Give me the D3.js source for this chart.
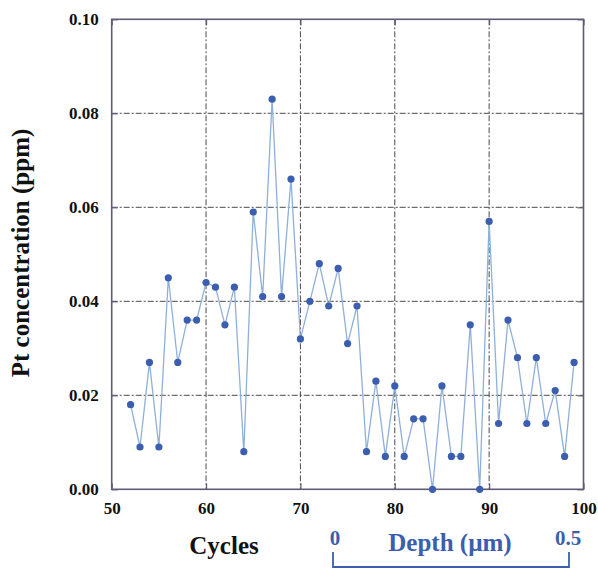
<!DOCTYPE html>
<html>
<head>
<meta charset="utf-8">
<script src="https://cdn.jsdelivr.net/npm/d3@7"></script>
<style>
  html, body { margin: 0; padding: 0; background: #fff; }
  svg { display: block; }
</style>
</head>
<body>
<svg id="chart" width="598" height="569"></svg>
<script>
// Pt concentration per cycle
const cycles = [52,53,54,55,56,57,58,59,60,61,62,63,64,65,66,67,68,69,70,71,72,73,74,75,
                76,77,78,79,80,81,82,83,84,85,86,87,88,89,90,91,92,93,94,95,96,97,98,99];
const ptPpm = [0.018,0.009,0.027,0.009,0.045,0.027,0.036,0.036,0.044,0.043,0.035,0.043,
               0.008,0.059,0.041,0.083,0.041,0.066,0.032,0.040,0.048,0.039,0.047,0.031,
               0.039,0.008,0.023,0.007,0.022,0.007,0.015,0.015,0.000,0.022,0.007,0.007,
               0.035,0.000,0.057,0.014,0.036,0.028,0.014,0.028,0.014,0.021,0.007,0.027];
const xTicks = [50,60,70,80,90,100];
const yTicks = [0,0.02,0.04,0.06,0.08,0.10];
const depthTicks = [0, 0.5];

const serif = "'Liberation Serif', 'Times New Roman', serif";
const svg = d3.select("#chart");
const plotL = 111.7, plotR = 583.5, plotT = 19.3, plotB = 489.3;

const x = d3.scaleLinear().domain([50,100]).range([plotL,plotR]);
const y = d3.scaleLinear().domain([0,0.10]).range([plotB,plotT]);
const depth = d3.scaleLinear().domain([0,0.5]).range([333,569]);

const blue = "#3b5fae";
const frame = "#5f5a75";

// grid lines
const grid = svg.append("g");
grid.selectAll("line.v").data(xTicks.slice(1,-1)).join("line")
  .attr("x1", d => x(d)).attr("x2", d => x(d))
  .attr("y1", plotT).attr("y2", plotB)
  .attr("stroke", "#4a4a4a").attr("stroke-width", 1)
  .attr("stroke-dasharray", "6,2,2,2");
grid.selectAll("line.h").data(yTicks.slice(1,-1)).join("line")
  .attr("x1", plotL).attr("x2", plotR)
  .attr("y1", d => y(d)).attr("y2", d => y(d))
  .attr("stroke", "#4a4a4a").attr("stroke-width", 1)
  .attr("stroke-dasharray", "6,2,2,2");

// axes with inward ticks
const xAxis = svg.append("g").attr("transform", `translate(0,${plotB})`)
  .call(d3.axisBottom(x).tickValues(xTicks).tickSize(-6).tickPadding(13).tickFormat(d3.format("d")));
const yAxis = svg.append("g").attr("transform", `translate(${plotL},0)`)
  .call(d3.axisLeft(y).tickValues(yTicks).tickSize(-6).tickPadding(13).tickFormat(d3.format(".2f")));
svg.append("g").attr("transform", `translate(0,${plotT})`)
  .call(d3.axisTop(x).tickValues(xTicks).tickSize(-6).tickFormat(""));
svg.append("g").attr("transform", `translate(${plotR},0)`)
  .call(d3.axisRight(y).tickValues(yTicks).tickSize(-6).tickFormat(""));

svg.selectAll(".domain").remove();
svg.selectAll(".tick line").attr("stroke", frame).attr("stroke-width", 1.2);
[xAxis, yAxis].forEach(ax => ax.attr("font-family", serif).selectAll("text")
  .attr("font-size", 17).attr("font-weight", "bold").attr("fill", "#111")
  .style("font-family", serif));

// plot frame
svg.append("rect")
  .attr("x", plotL).attr("y", plotT)
  .attr("width", plotR - plotL).attr("height", plotB - plotT)
  .attr("fill", "none").attr("stroke", frame).attr("stroke-width", 1.6);

// data line and markers
const pts = cycles.map((c, i) => [c, ptPpm[i]]);
svg.append("path").datum(pts)
  .attr("fill", "none").attr("stroke", "#8fb0da").attr("stroke-width", 1.3)
  .attr("d", d3.line().x(d => x(d[0])).y(d => y(d[1])));
svg.append("g").selectAll("circle").data(pts).join("circle")
  .attr("cx", d => x(d[0])).attr("cy", d => y(d[1]))
  .attr("r", 3.6).attr("fill", blue);

// axis titles
const title = (sel) => sel.attr("font-family", serif).attr("font-weight", "bold")
  .attr("text-anchor", "middle");
svg.append("text").call(title)
  .attr("transform", "translate(29,253) rotate(-90)")
  .attr("font-size", 25).attr("fill", "#111")
  .text("Pt concentration (ppm)");
svg.append("text").call(title)
  .attr("x", 224).attr("y", 554)
  .attr("font-size", 25).attr("fill", "#111")
  .text("Cycles");

// depth bracket
const dg = svg.append("g");
dg.append("path")
  .attr("d", `M${depth(0)},552V567H${depth(0.5)}V552`)
  .attr("fill", "none").attr("stroke", blue).attr("stroke-width", 1.8);
dg.selectAll("text.dt").data(depthTicks).join("text").call(title)
  .attr("x", d => depth(d) + (d === 0 ? 2 : -1)).attr("y", 545)
  .attr("font-size", 21).attr("fill", blue)
  .text(d => d === 0 ? "0" : d3.format(".1f")(d));
dg.append("text").call(title)
  .attr("x", 450).attr("y", 551)
  .attr("font-size", 25).attr("fill", blue)
  .text("Depth (\u00b5m)");
</script>
</body>
</html>
